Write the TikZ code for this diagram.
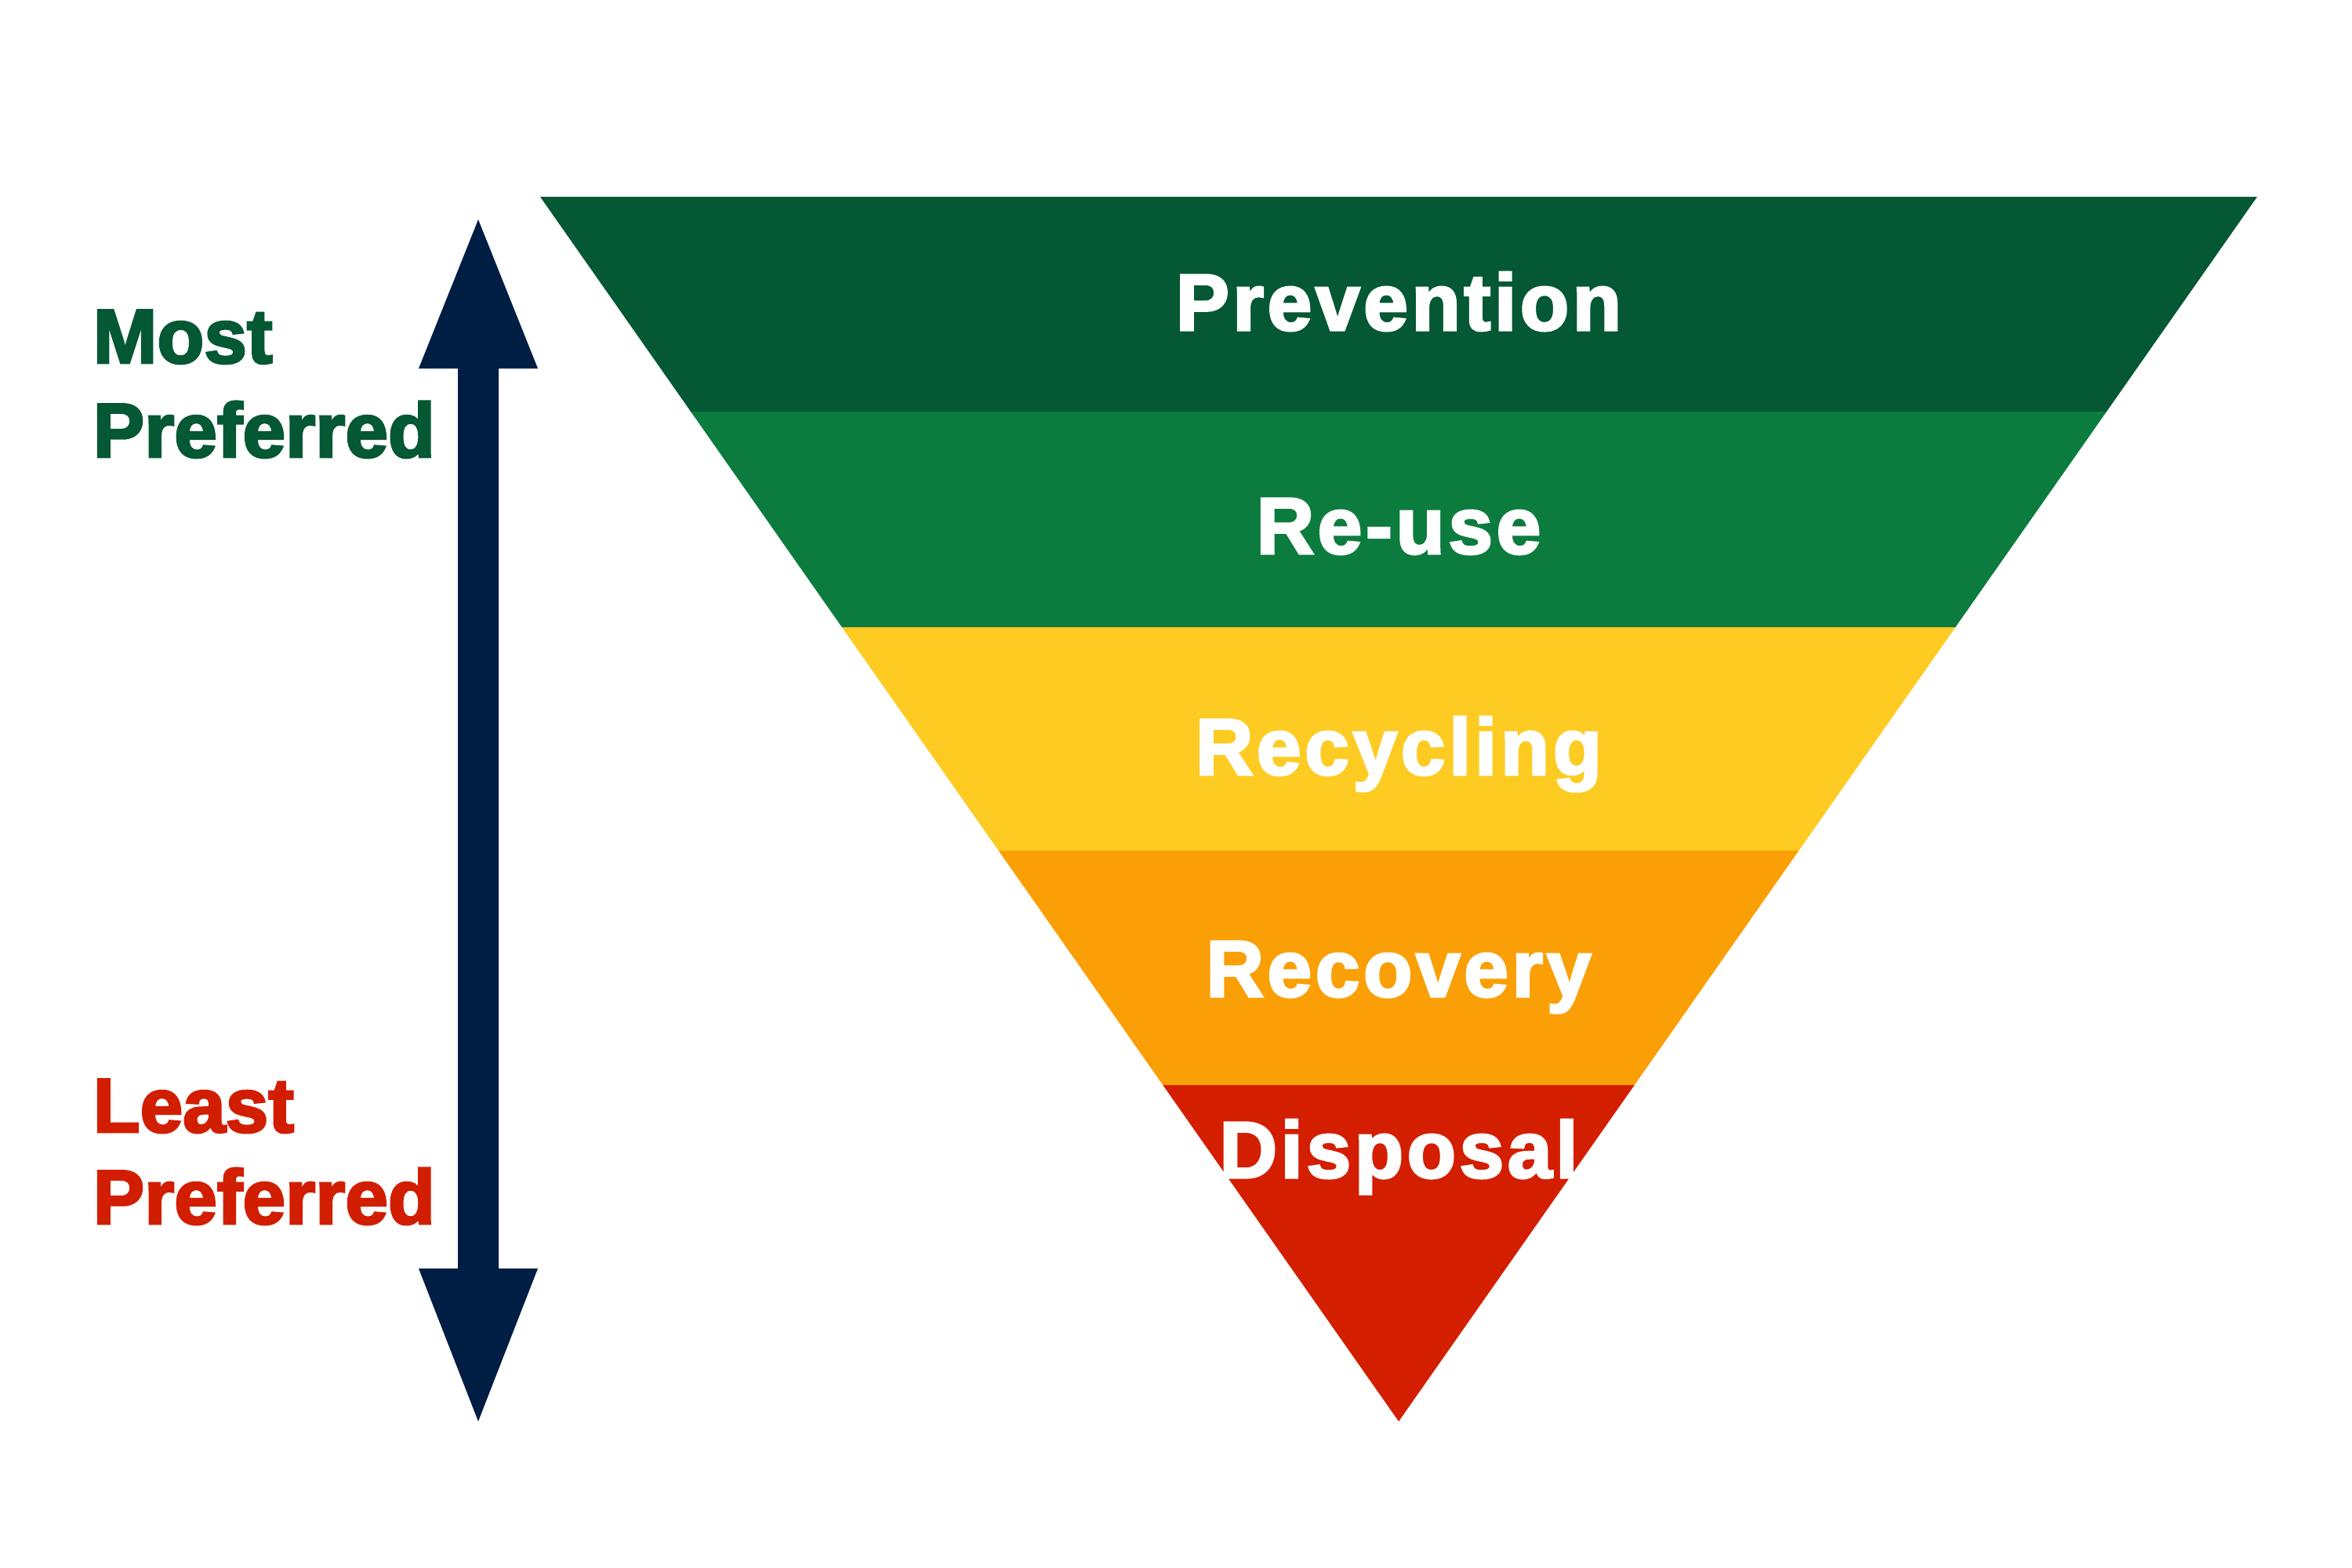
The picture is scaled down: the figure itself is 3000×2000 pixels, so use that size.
\documentclass[tikz,border=0pt]{standalone}
\usepackage{fontspec}
\setmainfont{Liberation Sans}
\newfontfamily\bandfont[LetterSpace=4.5,FakeBold=3]{Liberation Sans Bold}
\newfontfamily\sidefont[FakeBold=3]{Liberation Sans Bold}
\definecolor{cPrev}{RGB}{5,88,52}
\definecolor{cReuse}{RGB}{12,124,62}
\definecolor{cRecyc}{RGB}{253,203,34}
\definecolor{cRecov}{RGB}{251,159,6}
\definecolor{cDisp}{RGB}{212,30,0}
\definecolor{cNavy}{RGB}{0,30,68}
\definecolor{cMost}{RGB}{5,88,52}
\definecolor{cLeast}{RGB}{210,30,0}
\tikzset{
  bandlabel/.style={anchor=base, inner sep=0pt, text=white,
    font=\bandfont\fontsize{29pt}{35pt}\selectfont},
  sidelabel/.style={anchor=base west, inner sep=0pt,
    font=\sidefont\fontsize{27.9pt}{34pt}\selectfont},
}
\begin{document}
\begin{tikzpicture}[x=0.01cm,y=-0.01cm]
\useasboundingbox (0,0) rectangle (3000,2000);
\fill[white] (0,0) rectangle (3000,2000);
% triangle
\coordinate (L) at (689,251);
\coordinate (R) at (2879,251);
\coordinate (A) at (1784,1813);
\begin{scope}
  \clip (L) -- (R) -- (A) -- cycle;
  \fill[cPrev]  (600,240)  rectangle (2950,526);
  \fill[cReuse] (600,525)  rectangle (2950,801);
  \fill[cRecyc] (600,800)  rectangle (2950,1086);
  \fill[cRecov] (600,1085) rectangle (2950,1385);
  \fill[cDisp]  (600,1384) rectangle (2950,1830);
\end{scope}
% band labels
\node[bandlabel] (prev)  at (1784,421)  {Prevention};
\node[bandlabel] (reuse) at (1784,706)  {Re-use};
\node[bandlabel] (recyc) at (1784,988)  {Recycling};
\node[bandlabel] (recov) at (1784,1271) {Recovery};
\node[bandlabel] (disp)  at (1784,1502) {Disposal};
% double arrow
\coordinate (tipT) at (610,280);
\coordinate (tipB) at (610,1813);
\fill[cNavy] (tipT) -- (686,470) -- (636,470) -- (636,1618) -- (686,1618)
  -- (tipB) -- (534,1618) -- (584,1618) -- (584,470) -- (534,470) -- cycle;
% side labels
\node[sidelabel, text=cMost] (most1) at (118,463) {Most};
\node[sidelabel, text=cMost] (most2) at (118,583) {Preferred};
\node[sidelabel, text=cLeast] (least1) at (118,1444) {Least};
\node[sidelabel, text=cLeast] (least2) at (118,1561) {Preferred};
\end{tikzpicture}
\end{document}
